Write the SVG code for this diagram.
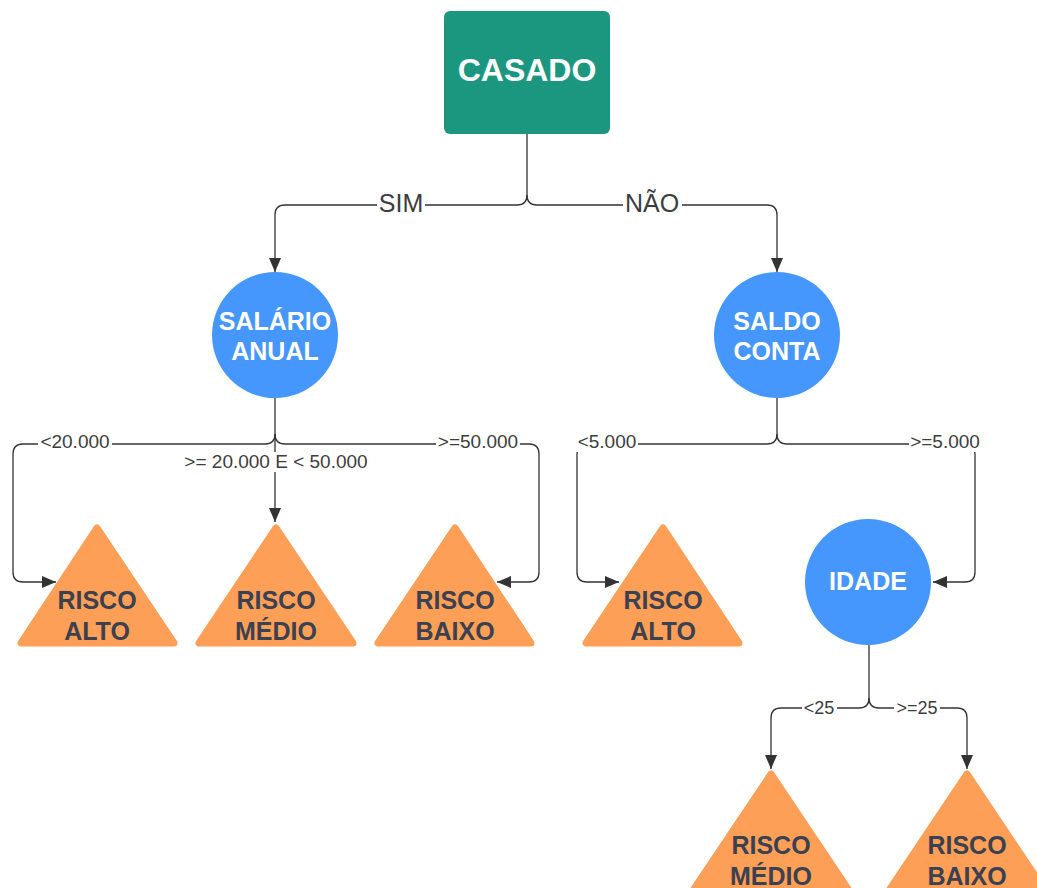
<svg xmlns="http://www.w3.org/2000/svg" width="1037" height="888" viewBox="0 0 1037 888">
<style>
.bg{fill:#ffffff}
.edge{fill:none;stroke:#333333;stroke-width:1.3}
.sq{fill:#1b977f}
.circ{fill:#4597fd}
.tri{fill:#fd9f56;stroke:#fd9f56;stroke-width:7;stroke-linejoin:round}
.tw{font-family:"Liberation Sans",Arial,sans-serif;font-weight:bold;fill:#ffffff;text-anchor:middle}
.td{font-family:"Liberation Sans",Arial,sans-serif;font-weight:bold;fill:#3b4150;text-anchor:middle;font-size:25px}
.lbl{font-family:"Liberation Sans",Arial,sans-serif;fill:#3d3d3d;text-anchor:middle}
.lbg{fill:#ffffff}
</style>
<defs>
<marker id="arr" markerUnits="userSpaceOnUse" markerWidth="14" markerHeight="12" refX="14" refY="6" orient="auto">
<path d="M0,0 L14,6 L0,12 Z" fill="#333333"/>
</marker>
</defs>
<rect class="bg" x="0" y="0" width="1037" height="888"/>
<g id="connectors">
<path class="edge" marker-end="url(#arr)" d="M527 134 V195 Q527 205 517 205 H285 Q275 205 275 215 V272"/>
<path class="edge" marker-end="url(#arr)" d="M527 195 Q527 205 537 205 H767 Q777 205 777 215 V272"/>
<path class="edge" marker-end="url(#arr)" d="M275 397 V434 Q275 444 265 444 H23 Q13 444 13 454 V572 Q13 582 23 582 H56"/>
<path class="edge" marker-end="url(#arr)" d="M275 434 V522"/>
<path class="edge" marker-end="url(#arr)" d="M275 434 Q275 444 285 444 H529 Q539 444 539 454 V572 Q539 582 529 582 H497"/>
<path class="edge" marker-end="url(#arr)" d="M777 397 V434 Q777 444 767 444 H587 Q577 444 577 454 V572 Q577 582 587 582 H619"/>
<path class="edge" marker-end="url(#arr)" d="M777 434 Q777 444 787 444 H965 Q975 444 975 454 V572 Q975 582 965 582 H933"/>
<path class="edge" marker-end="url(#arr)" d="M869 645 V698 Q869 708 859 708 H781 Q771 708 771 718 V769"/>
<path class="edge" marker-end="url(#arr)" d="M869 698 Q869 708 879 708 H957 Q967 708 967 718 V769"/>
<rect class="lbg" x="377" y="192" width="48" height="24"/>
<rect class="lbg" x="623" y="190" width="59" height="26"/>
<rect class="lbg" x="38" y="433" width="74" height="19"/>
<rect class="lbg" x="436" y="433" width="84" height="19"/>
<rect class="lbg" x="183" y="452" width="187" height="20"/>
<rect class="lbg" x="576" y="433" width="62" height="19"/>
<rect class="lbg" x="909" y="433" width="72" height="19"/>
<rect class="lbg" x="802" y="700" width="35" height="17"/>
<rect class="lbg" x="894" y="700" width="46" height="17"/>
<text class="lbl" x="401" y="212" font-size="25">SIM</text>
<text class="lbl" x="652" y="212" font-size="25">NÃO</text>
<text class="lbl" x="75" y="448" font-size="19">&lt;20.000</text>
<text class="lbl" x="478" y="448" font-size="19">&gt;=50.000</text>
<text class="lbl" x="276" y="468" font-size="19">&gt;= 20.000 E &lt; 50.000</text>
<text class="lbl" x="607" y="448" font-size="19">&lt;5.000</text>
<text class="lbl" x="945" y="448" font-size="19">&gt;=5.000</text>
<text class="lbl" x="819" y="714" font-size="18">&lt;25</text>
<text class="lbl" x="917" y="714" font-size="18">&gt;=25</text>
</g>
<g id="casado">
<rect class="sq" x="444" y="11" width="166" height="123" rx="6"/>
<text class="tw" x="527" y="81" font-size="32">CASADO</text>
</g>
<g id="salario">
<circle class="circ" cx="275" cy="335" r="63"/>
<text class="tw" x="275" y="330" font-size="25">SALÁRIO</text>
<text class="tw" x="275" y="360" font-size="25">ANUAL</text>
</g>
<g id="saldo">
<circle class="circ" cx="777" cy="335" r="63"/>
<text class="tw" x="777" y="330" font-size="25">SALDO</text>
<text class="tw" x="777" y="360" font-size="25">CONTA</text>
</g>
<g id="idade">
<circle class="circ" cx="868" cy="582" r="63"/>
<text class="tw" x="868" y="590" font-size="25">IDADE</text>
</g>
<g id="risco-alto-1">
<polygon class="tri" points="97,528 21,643 174,643"/>
<text class="td" x="97" y="609">RISCO</text>
<text class="td" x="97" y="640">ALTO</text>
</g>
<g id="risco-medio-1">
<polygon class="tri" points="276,528 199,643 353,643"/>
<text class="td" x="276" y="609">RISCO</text>
<text class="td" x="276" y="640">MÉDIO</text>
</g>
<g id="risco-baixo-1">
<polygon class="tri" points="455,528 378,643 531,643"/>
<text class="td" x="455" y="609">RISCO</text>
<text class="td" x="455" y="640">BAIXO</text>
</g>
<g id="risco-alto-2">
<polygon class="tri" points="663,528 586,643 739,643"/>
<text class="td" x="663" y="609">RISCO</text>
<text class="td" x="663" y="640">ALTO</text>
</g>
<g id="risco-medio-2">
<polygon class="tri" points="771,774 694,889 848,889"/>
<text class="td" x="771" y="854">RISCO</text>
<text class="td" x="771" y="885">MÉDIO</text>
</g>
<g id="risco-baixo-2">
<polygon class="tri" points="967,774 890,889 1044,889"/>
<text class="td" x="967" y="854">RISCO</text>
<text class="td" x="967" y="885">BAIXO</text>
</g>
</svg>
